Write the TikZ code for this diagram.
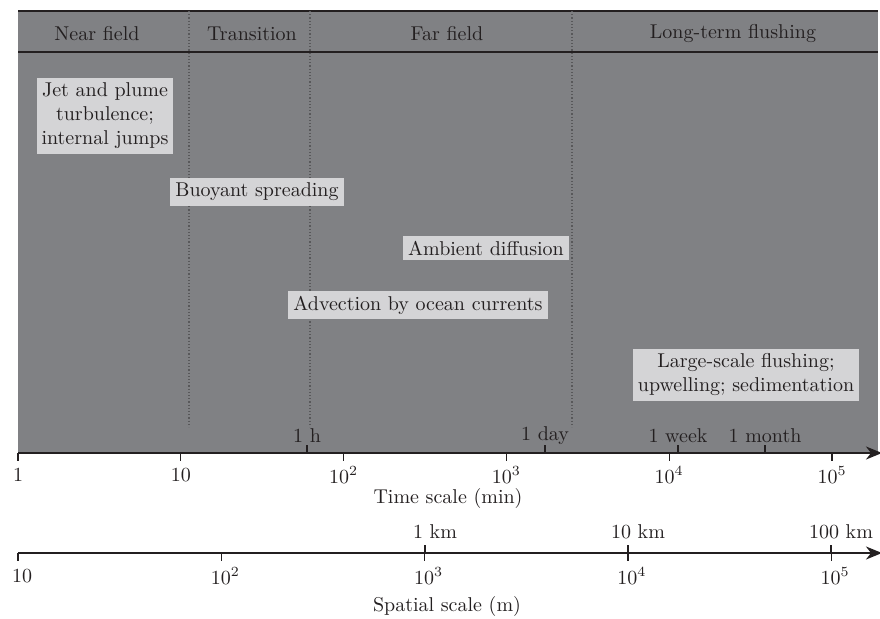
\documentclass[tikz,border=0pt]{standalone}
\usepackage{tikz}
\usetikzlibrary{arrows.meta}
\definecolor{bggray}{HTML}{808184}
\definecolor{boxgray}{HTML}{D4D4D6}
\definecolor{ink}{HTML}{231F20}
\definecolor{divgray}{HTML}{58585A}

\begin{document}
\begin{tikzpicture}[x=0.5pt,y=-0.5pt,
  txt/.style={text=ink, inner sep=1pt, font=\fontsize{10}{12}\selectfont},
  procbox/.style={txt, fill=boxgray, align=center, inner sep=2.5pt},
  axisline/.style={draw=ink, line width=0.8pt, -{Stealth[length=8pt,width=6.5pt,inset=2.5pt]}},
  divider/.style={draw=divgray, densely dotted, line width=0.6pt}]
  \useasboundingbox (0,0) rectangle (880,618);

  % Background panel
  \fill[bggray] (18,11) rectangle (878,453);
  \draw[ink, line width=0.8pt] (18,11) -- (878,11);
  \draw[ink, line width=0.9pt] (18,52) -- (878,52);

  % Regime dividers
  \coordinate (d1top) at (189,11);  \coordinate (d1bot) at (189,427);
  \coordinate (d2top) at (310,11);  \coordinate (d2bot) at (310,427);
  \coordinate (d3top) at (572,11);  \coordinate (d3bot) at (572,427);
  \draw[divider] (d1top) -- (d1bot);
  \draw[divider] (d2top) -- (d2bot);
  \draw[divider] (d3top) -- (d3bot);

  % Regime titles
  \node[txt] (near)  at (97,34)  {Near field};
  \node[txt] (trans) at (252,34) {Transition};
  \node[txt] (far)   at (447,34) {Far field};
  \node[txt] (long)  at (733,34) {Long-term flushing};

  % Processes
  \node[procbox] (jet)    at (105,116) {Jet and plume\\turbulence;\\internal jumps};
  \node[procbox] (buoy)   at (257,192) {Buoyant spreading};
  \node[procbox] (diff)   at (486,248) {Ambient diffusion};
  \node[procbox] (adv)    at (418,305) {Advection by ocean currents};
  \node[procbox] (flush)  at (746,375) {Large-scale flushing;\\upwelling; sedimentation};

  % Time axis
  \coordinate (t0) at (18,453);
  \coordinate (tend) at (882,453);
  \draw[axisline] (t0) -- (tend);
  \foreach \i/\lab in {0/1, 1/10, 2/$10^2$, 3/$10^3$, 4/$10^4$, 5/$10^5$} {
    \draw[ink, line width=0.6pt] (18+162.8*\i,453) -- (18+162.8*\i,461);
    \node[txt] at (18+162.8*\i,475) {\lab};
  }
  \foreach \x/\lab in {307/1 h, 545/1 day, 678/1 week, 765/1 month} {
    \draw[ink, line width=0.6pt] (\x,445) -- (\x,453);
    \node[txt] at (\x,436) {\lab};
  }
  \node[txt] (tlab) at (448,498) {Time scale (min)};

  % Spatial axis
  \coordinate (s0) at (18,553);
  \coordinate (send) at (882,553);
  \draw[axisline] (s0) -- (send);
  \foreach \i/\lab in {0/10, 1/$10^2$, 2/$10^3$, 3/$10^4$, 4/$10^5$} {
    \draw[ink, line width=0.6pt] (18+203.3*\i,553) -- (18+203.3*\i,561);
    \node[txt] at (22+203.3*\i,576) {\lab};
  }
  \foreach \x/\lab in {425/1 km, 628/10 km, 831/100 km} {
    \draw[ink, line width=0.6pt] (\x,545) -- (\x,553);
    \node[txt] at (\x+10,532) {\lab};
  }
  \node[txt] (slab) at (447,606) {Spatial scale (m)};
\end{tikzpicture}
\end{document}
